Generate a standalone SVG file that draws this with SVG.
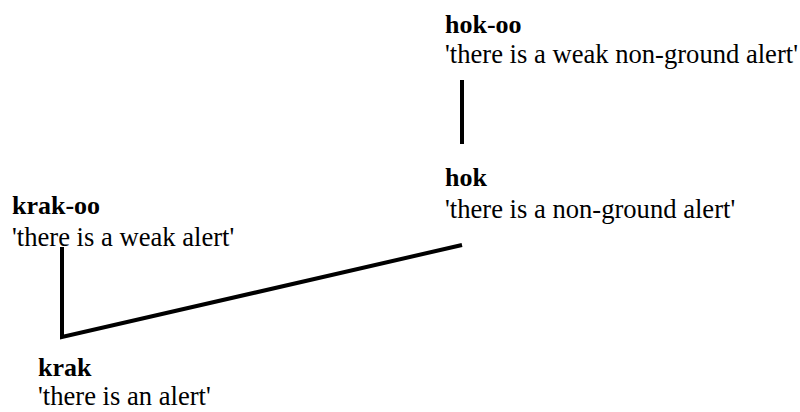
<svg xmlns="http://www.w3.org/2000/svg" width="800" height="412" viewBox="0 0 800 412">
<style>
text{font-family:"Liberation Serif","Times New Roman",serif;font-size:26.6px;fill:#000}
.t{font-weight:bold;font-size:26px}
.c{stroke:#000;stroke-width:4;fill:none;stroke-linecap:butt;stroke-linejoin:miter}
</style>
<rect width="800" height="412" fill="#fff"/>
<g id="connectors">
<line class="c" x1="462" y1="80" x2="462" y2="144"/>
<polyline class="c" points="462,245 62,337 62,247"/>
</g>
<g id="hok-oo"><text class="t" x="445" y="33">hok-oo</text><text x="445" y="63">'there is a weak non-ground alert'</text></g>
<g id="hok"><text class="t" x="445" y="186">hok</text><text x="445" y="218">'there is a non-ground alert'</text></g>
<g id="krak-oo"><text class="t" x="12" y="214">krak-oo</text><text x="12" y="246">'there is a weak alert'</text></g>
<g id="krak"><text class="t" x="38" y="376">krak</text><text x="38" y="405">'there is an alert'</text></g>
</svg>
